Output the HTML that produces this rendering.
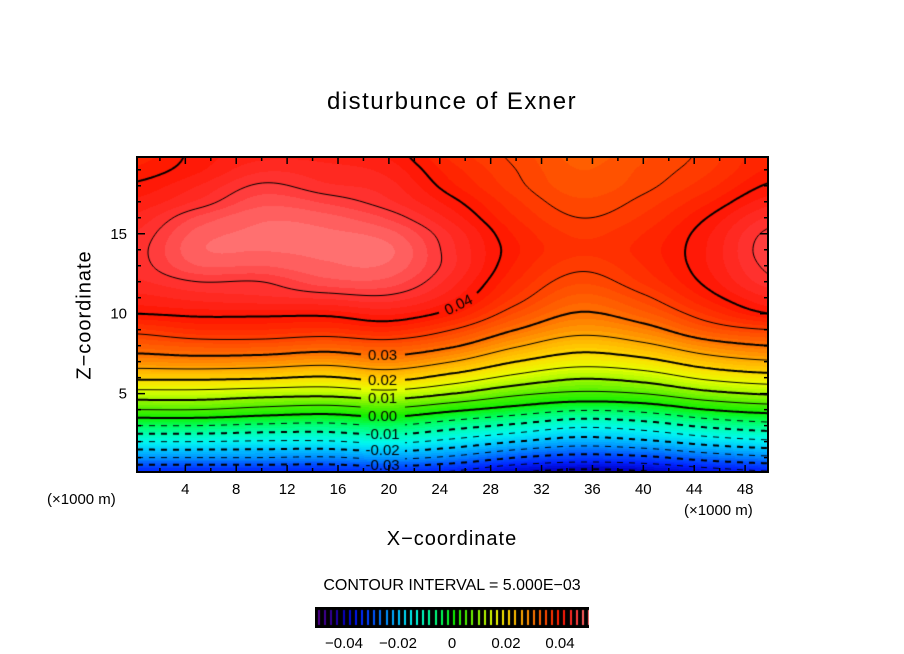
<!DOCTYPE html>
<html><head><meta charset="utf-8">
<style>
body{margin:0;background:#fff;}
#wrap{position:relative;width:904px;height:654px;overflow:hidden;background:#fff;font-family:"Liberation Sans",sans-serif;}
.t{position:absolute;white-space:nowrap;color:#000;}
canvas{position:absolute;}
</style></head>
<body>
<div id="wrap">
<div class="t" style="left:0;width:904px;text-align:center;top:88px;font-size:24px;letter-spacing:1.5px;">disturbunce of Exner</div>
<canvas id="cv" width="631" height="315" style="left:137px;top:157px;"></canvas>
<svg id="ax" width="904" height="654" style="position:absolute;left:0;top:0;"></svg>
<div class="t" style="left:85px;top:315px;font-size:20px;letter-spacing:1px;transform:translate(-50%,-50%) rotate(-90deg);">Z−coordinate</div>
<div class="t" style="left:47px;top:491px;font-size:15px;">(×1000 m)</div>
<div class="t" style="left:684px;top:502px;font-size:15px;">(×1000 m)</div>
<div class="t" style="left:0;width:904px;text-align:center;top:528px;font-size:20px;letter-spacing:1px;">X−coordinate</div>
<div class="t" style="left:0;width:904px;text-align:center;top:577px;font-size:16px;">CONTOUR INTERVAL = 5.000E−03</div>
<canvas id="cb" width="274" height="21" style="left:315px;top:607px;"></canvas>
</div>
<script>
// ---- data ----
const xCols = [0,5,10,15,20,25,30,35,40,45,50];
const zRows = [0,1,2,3,4,5,6,7,8,9,10,11,12,13,14,15,16,17,18,19,20];
const colX0  = [-35,-25,-15,-5,5,13,21,27.5,32,36,40,42,43.5,44.2,44.3,43.8,42.8,41.5,40.3,39,38];
const colX5  = [-35,-25,-15,-5,5,13,21,28,33,37.5,40.5,43,45,47.5,48.5,48,46.5,44,42.5,41,40.5];
const colX10 = [-35,-25,-15.5,-6,3.5,12,20.5,27.5,33,37.5,40.5,43.5,45,47.5,48.8,49,48.5,47,45.3,43.5,42];
const colX15 = [-35,-25.5,-15.5,-6.5,2.5,11.5,19.5,26.5,32,37,40.5,44,47,48.5,49,49,48,46,44,43,42];
const colX20 = [-34,-24,-14,-5,4,13,21.5,28,33,38,41.5,44.5,47,48.5,49,48,46,44,43,42,41];
const colX25 = [-36,-26,-16.5,-8,1,10,18,25,30.5,35,39,41.5,43,44,44,43.5,42,40.5,39,38,37];
const colX30 = [-40,-30,-20,-11,-2,6,13.5,20,25.5,30,33.5,36,37.5,38.5,39,38.5,37.5,36.5,35.5,35,34.5];
const colX35 = [-42,-32,-22.5,-14,-4.5,4,10.5,17,22,26.5,29.7,32,34,35.5,36.5,36,35,34,33,32.5,32];
const colX40 = [-41,-31,-21,-12.5,-3.5,5,12,18.5,24,28.5,32,34.5,36.5,37.5,38,37.5,36.5,35.5,34.5,34,33.5];
const colX45 = [-38,-28,-18,-9,0,8.5,16,22.5,28,33,36.5,39,40.5,41.2,41.3,41,40,38.5,37,36,35.5];
const colX50 = [-36,-26,-16,-7,2,10.5,18,24.5,30,35,40,42.5,44.5,45.5,46,45.5,44,42,40.3,39,38.5];
const fieldCols = [colX0,colX5,colX10,colX15,colX20,colX25,colX30,colX35,colX40,colX45,colX50];
const xTickLabels = [4,8,12,16,20,24,28,32,36,40,44,48];
const zTickLabels = [5,10,15];
const cbTickLabels = ["−0.04","−0.02","0","0.02","0.04"];
const cbTickValues = [-0.04,-0.02,0,0.02,0.04];
const lineLabelValues = [0.03,0.02,0.01,0.00,-0.01,-0.02,-0.03];

// ---- scales ----
const PX0=137,PX1=768,PY0=157,PY1=472;
const XD0=0.2,XD1=49.8,ZD0=0.1,ZD1=19.8;
const sx = x => PX0+(x-XD0)/(XD1-XD0)*(PX1-PX0);
const sz = z => PY1-(z-ZD0)/(ZD1-ZD0)*(PY1-PY0);
const ix = px => XD0+(px-PX0)/(PX1-PX0)*(XD1-XD0);
const iz = py => ZD0+(PY1-py)/(PY1-PY0)*(ZD1-ZD0);

function cr(p0,p1,p2,p3,t){return 0.5*((2*p1)+(-p0+p2)*t+(2*p0-5*p1+4*p2-p3)*t*t+(-p0+3*p1-3*p2+p3)*t*t*t);}
function colAt(c,fj){const j=Math.floor(fj),b=fj-j;const n=c.length;const g=k=>c[Math.max(0,Math.min(n-1,k))];
  return cr(g(j-1),g(j),g(j+1),g(j+2),b);}
function val(x,z){
  let fi=(x-xCols[0])/(xCols[1]-xCols[0]); fi=Math.max(0,Math.min(xCols.length-1.0001,fi));
  let fj=(z-zRows[0])/(zRows[1]-zRows[0]); fj=Math.max(0,Math.min(zRows.length-1.0001,fj));
  const i=Math.floor(fi),a=fi-i;const n=fieldCols.length;
  const g=k=>colAt(fieldCols[Math.max(0,Math.min(n-1,k))],fj);
  return cr(g(i-1),g(i),g(i+1),g(i+2),a)/1000;
}
const anchors=[[-0.05,[80,0,144]],[-0.045,[48,0,150]],[-0.04,[0,0,200]],[-0.035,[0,32,255]],[-0.03,[0,80,255]],[-0.025,[0,144,255]],[-0.02,[0,200,255]],[-0.015,[0,248,240]],[-0.01,[0,255,176]],[-0.005,[0,255,96]],[0,[16,240,0]],[0.005,[80,240,0]],[0.01,[160,248,0]],[0.015,[232,255,0]],[0.02,[255,216,0]],[0.025,[255,168,0]],[0.03,[255,112,0]],[0.035,[255,64,0]],[0.04,[255,21,0]],[0.045,[255,53,53]],[0.05,[255,120,120]]];
function color(v){
  if(v<=anchors[0][0])return anchors[0][1];
  for(let k=0;k<anchors.length-1;k++){
    if(v<=anchors[k+1][0]){const t=(v-anchors[k][0])/(anchors[k+1][0]-anchors[k][0]);
      return anchors[k][1].map((c,m)=>Math.round(c+(anchors[k+1][1][m]-c)*t));}
  }
  return anchors[anchors.length-1][1];
}
// ---- fill ----
const cv=document.getElementById('cv'),ctx=cv.getContext('2d');
const W=cv.width,H=cv.height,img=ctx.createImageData(W,H);
const STEP=0.00125;
for(let py=0;py<H;py++){const z=iz(PY0+py+0.5);
  for(let px=0;px<W;px++){const x=ix(PX0+px+0.5);
    let v=val(x,z); v=(Math.floor(v/STEP)+0.5)*STEP;
    const c=color(v),o=(py*W+px)*4;img.data[o]=c[0];img.data[o+1]=c[1];img.data[o+2]=c[2];img.data[o+3]=255;}}
ctx.putImageData(img,0,0);

// ---- labels positions ----
function findZ(x,lev,z0,z1){let a=z0,b=z1;for(let k=0;k<40;k++){const m=(a+b)/2;if(val(x,m)<lev)a=m;else b=m;}return (a+b)/2;}
const boxes=[];
const labelX=19.5;
const labelsToDraw=[];
lineLabelValues.forEach(l=>{const z=findZ(labelX,l,0.1,11);const cx=sx(labelX)-PX0,cy=sz(z)-PY0;
  const txt=l.toFixed(2);labelsToDraw.push([txt,cx,cy,0]);boxes.push([cx-22,cy-9,cx+22,cy+9]);});
{const z=findZ(25.5,0.04,5,13);const cx=sx(25.5)-PX0,cy=sz(z)-PY0;labelsToDraw.push(["0.04",cx,cy,-0.45]);boxes.push([cx-20,cy-12,cx+20,cy+12]);}
function inBox(x,y){return boxes.some(b=>x>b[0]&&x<b[2]&&y>b[1]&&y<b[3]);}

// ---- contours (marching squares) ----
const G=2,nx=Math.ceil(W/G)+1,ny=Math.ceil(H/G)+1,grid=[];
for(let j=0;j<ny;j++){grid.push([]);for(let i=0;i<nx;i++)grid[j].push(val(ix(PX0+i*G),iz(PY0+j*G)));}
for(let n=-9;n<=10;n++){
  const lev=n*0.005;const thick=(n%2===0);const neg=lev<-1e-9;
  ctx.strokeStyle='#000';ctx.lineWidth=thick?2:1;ctx.beginPath();
  for(let j=0;j<ny-1;j++)for(let i=0;i<nx-1;i++){
    const v=[grid[j][i],grid[j][i+1],grid[j+1][i+1],grid[j+1][i]];
    const p=[[i*G,j*G],[(i+1)*G,j*G],[(i+1)*G,(j+1)*G],[i*G,(j+1)*G]];
    const pts=[];
    for(let e=0;e<4;e++){const a=v[e],b=v[(e+1)%4];if((a<lev)!==(b<lev)){const t=(lev-a)/(b-a);
      pts.push([p[e][0]+(p[(e+1)%4][0]-p[e][0])*t,p[e][1]+(p[(e+1)%4][1]-p[e][1])*t]);}}
    for(let k=0;k+1<pts.length;k+=2){const mx=(pts[k][0]+pts[k+1][0])/2,my=(pts[k][1]+pts[k+1][1])/2;
      if(inBox(mx,my))continue;
      if(neg&&Math.floor(mx/6)%2===1)continue;
      ctx.moveTo(pts[k][0],pts[k][1]);ctx.lineTo(pts[k+1][0],pts[k+1][1]);}
  }
  ctx.stroke();
}
ctx.fillStyle='#000';ctx.font='15px "Liberation Sans",sans-serif';ctx.textAlign='center';ctx.textBaseline='middle';
labelsToDraw.forEach(l=>{ctx.save();ctx.translate(l[1],l[2]);ctx.rotate(l[3]);ctx.fillText(l[0],0,0);ctx.restore();});

// ---- axes (svg) ----
const ax=document.getElementById('ax');const NS='http://www.w3.org/2000/svg';
function mk(tag,attrs){const e=document.createElementNS(NS,tag);for(const k in attrs)e.setAttribute(k,attrs[k]);ax.appendChild(e);return e;}
const frame=mk('rect',{x:PX0,y:PY0,width:PX1-PX0,height:PY1-PY0,fill:'none',stroke:'#000','stroke-width':2});


for(let x=2;x<=48;x+=2){const major=x%4===0;const L=major?7:4;
  const t1=mk('line',{x1:sx(x),x2:sx(x),y1:PY1,y2:PY1-L,stroke:'#000','stroke-width':1.5});
  
  
  const t2=mk('line',{x1:sx(x),x2:sx(x),y1:PY0,y2:PY0+L,stroke:'#000','stroke-width':1.5});
  
  }
for(let z=1;z<=19;z++){const major=z%5===0;const L=major?8:4;
  const t1=mk('line',{x1:PX0,x2:PX0+L,y1:sz(z),y2:sz(z),stroke:'#000','stroke-width':1.5});
  
  
  const t2=mk('line',{x1:PX1,x2:PX1-L,y1:sz(z),y2:sz(z),stroke:'#000','stroke-width':1.5});
  
  }
xTickLabels.forEach(x=>{const t=mk('text',{x:sx(x),y:494,'text-anchor':'middle','font-size':15,'font-family':'Liberation Sans, sans-serif'});t.textContent=x;
  
  });
zTickLabels.forEach(z=>{const t=mk('text',{x:127,y:sz(z)+5,'text-anchor':'end','font-size':15,'font-family':'Liberation Sans, sans-serif'});t.textContent=z;
  
  });
// colorbar
const cb=document.getElementById('cb'),cc=cb.getContext('2d');
cc.fillStyle='#000';cc.fillRect(0,0,274,21);
const CB0=2,CB1=272;const cbx=v=>CB0+(v+0.05)/0.1*(CB1-CB0);
for(let k=0;k<=44;k++){const v=-0.05+k*(0.1/44);const c=color(v);cc.fillStyle=`rgb(${c[0]},${c[1]},${c[2]})`;cc.fillRect(Math.round(cbx(v))+1,3,2,15);}
cbTickValues.forEach((v,k)=>{const t=mk('text',{x:315+cbx(v),y:648,'text-anchor':'middle','font-size':15,'font-family':'Liberation Sans, sans-serif'});t.textContent=cbTickLabels[k];
  
  });
</script>
</body></html>
